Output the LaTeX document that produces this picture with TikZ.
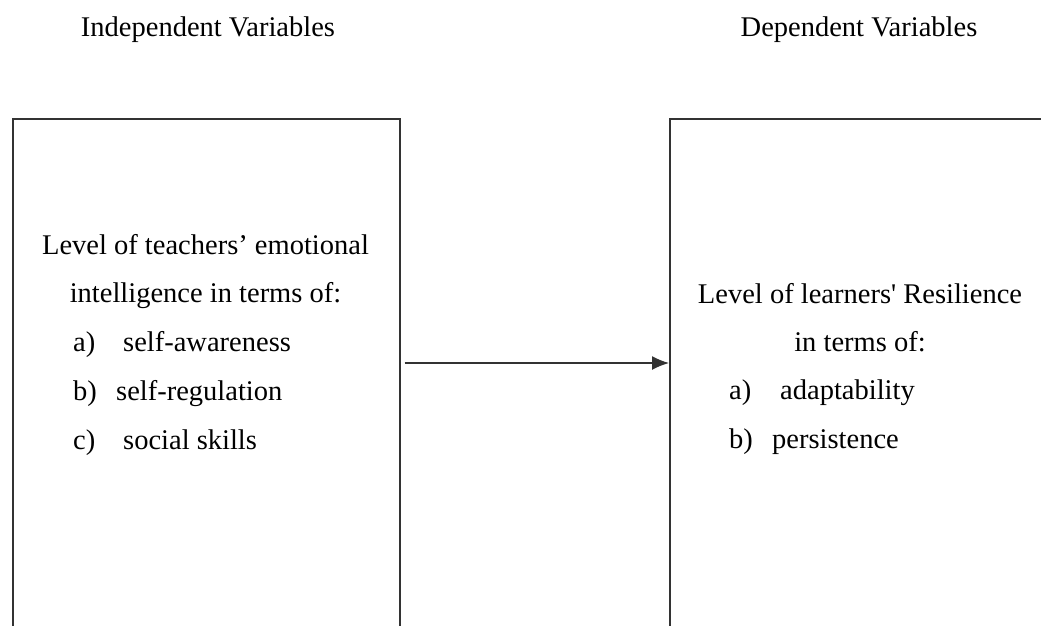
\documentclass[tikz,border=0pt]{standalone}
\usepackage{fontspec}
\setmainfont{Liberation Serif}[Ligatures=TeXOff]
\usetikzlibrary{arrows.meta}
\begin{document}
\begin{tikzpicture}[x=1pt, y=-1pt,
  every node/.style={font=\fontsize{28.5}{34}\selectfont, inner sep=0pt},
  varbox/.style={draw=black!80, line width=1.7pt, minimum width=387pt, minimum height=560pt, anchor=north west},
  line/.style={anchor=base},
  item/.style={anchor=base west}]
  \useasboundingbox (0,0) rectangle (1041,625);
  \clip (0,0) rectangle (1041,625);

  % Headings
  \node[line] (ivhead) at (208,36) {Independent Variables};
  \node[line] (dvhead) at (859,36) {Dependent Variables};

  % Independent variable box
  \node[varbox] (ivbox) at (12,118) {};
  \node[line] (iv1) at (205.5,254) {Level of teachers’ emotional};
  \node[line] (iv2) at (205.5,302) {intelligence in terms of:};
  \node[item] (iva) at (73,351) {\makebox[50pt][l]{a)}self-awareness};
  \node[item] (ivb) at (73,400) {\makebox[43pt][l]{b)}self-regulation};
  \node[item] (ivc) at (73,449) {\makebox[50pt][l]{c)}social skills};

  % Dependent variable box
  \node[varbox] (dvbox) at (669,118) {};
  \node[line] (dv1) at (860,303) {Level of learners' Resilience};
  \node[line] (dv2) at (860,351) {in terms of:};
  \node[item] (dva) at (729,399) {\makebox[51pt][l]{a)}adaptability};
  \node[item] (dvb) at (729,448) {\makebox[43pt][l]{b)}persistence};

  % Flow arrow
  \coordinate (flow) at (0,363);
  \draw[-{Latex[length=17pt, width=14pt]}, line width=1.4pt, black!80]
    ([xshift=4pt]ivbox.east |- flow) -- (dvbox.west |- flow);
\end{tikzpicture}
\end{document}
